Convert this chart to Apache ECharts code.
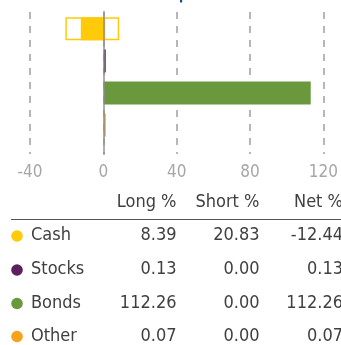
<!DOCTYPE html>
<html>
<head>
<meta charset="utf-8">
<script src="https://cdn.jsdelivr.net/npm/echarts@6/dist/echarts.min.js"></script>
<style>
  html, body { margin: 0; padding: 0; background: #fff; }
  #chart { width: 341px; height: 345px; }
</style>
</head>
<body>
<div id="chart"></div>
<script>
// Asset allocation: long / short / net exposure per asset class
const categories = ['Cash', 'Stocks', 'Bonds', 'Other'];
const longPct = [8.39, 0.13, 112.26, 0.07];
const shortPct = [20.83, 0.00, 0.00, 0.00];
const netPct = [-12.44, 0.13, 112.26, 0.07];
const classColors = ['#FFCA0A', '#5E1F5E', '#6A983C', '#F7A21C'];
const tableHeaders = ['Long %', 'Short %', 'Net %'];
const axisMin = -40, axisMax = 120, axisStep = 40;

const FONT = "'DejaVu Sans Condensed', 'Liberation Sans Narrow', sans-serif";
const TEXT = '#404040';

// Outline boxes are only drawn for classes that carry a short position
const longOutline = longPct.map((v, i) => shortPct[i] > 0 ? v : '-');
const shortOutline = shortPct.map(v => v > 0 ? -v : '-');

const chart = echarts.init(document.getElementById('chart'), null, { renderer: 'canvas' });

// Allocation table below the bars (y values are text centres)
const colRight = [176.5, 259.5, 343];
const headerY = 202.5;
const rowY = [235.5, 269.5, 303, 336];
const graphic = [];
tableHeaders.forEach((h, j) => {
  graphic.push({ type: 'text', x: colRight[j], y: headerY,
    style: { text: h, fill: TEXT, font: '18px ' + FONT, textAlign: 'right', textVerticalAlign: 'middle' } });
});
graphic.push({ type: 'line', shape: { x1: 11, y1: 219.5, x2: 341, y2: 219.5 },
  style: { stroke: '#555', lineWidth: 1 } });
categories.forEach((c, i) => {
  const y = rowY[i];
  graphic.push({ type: 'circle', shape: { cx: 17, cy: y + 0.5, r: 5.8 }, style: { fill: classColors[i] } });
  graphic.push({ type: 'text', x: 31, y: y,
    style: { text: c, fill: TEXT, font: '18px ' + FONT, textAlign: 'left', textVerticalAlign: 'middle' } });
  [longPct[i], shortPct[i], netPct[i]].forEach((v, j) => {
    graphic.push({ type: 'text', x: colRight[j], y: y,
      style: { text: v.toFixed(2), fill: TEXT, font: '18px ' + FONT, textAlign: 'right', textVerticalAlign: 'middle' } });
  });
});
// heading accent at the top edge
graphic.push({ type: 'rect', shape: { x: 180, y: 0, width: 2.2, height: 2.5 }, style: { fill: '#1B4F8A' } });

const barW = 23;
chart.setOption({
  animation: false,
  grid: [
    { left: 30, right: 16, top: 12, height: 142 },
    { left: 30, right: 16, top: 12.75, height: 128.4 }
  ],
  xAxis: [
    { gridIndex: 0, type: 'value', min: axisMin, max: axisMax, interval: axisStep,
      axisLine: { show: false }, axisTick: { show: false },
      axisLabel: { color: '#a6a6a6', fontSize: 17, fontFamily: FONT, margin: 10 },
      splitLine: { show: true, lineStyle: { color: '#a0a0a0', width: 1.5, type: [7, 7] } } },
    { gridIndex: 1, type: 'value', min: axisMin, max: axisMax, interval: axisStep, show: false,
      splitLine: { show: false } }
  ],
  yAxis: [
    { gridIndex: 0, type: 'category', data: categories, inverse: true, z: 10,
      axisLine: { show: true, onZero: true, lineStyle: { color: '#8c8c8c', width: 2, opacity: 0.7 } },
      axisTick: { show: false }, axisLabel: { show: false }, splitLine: { show: false } },
    { gridIndex: 1, type: 'category', data: categories, inverse: true, show: false }
  ],
  series: [
    { name: 'Short', type: 'bar', xAxisIndex: 1, yAxisIndex: 1, data: shortOutline,
      barWidth: barW, barGap: '-100%',
      itemStyle: { color: '#fff', borderColor: classColors[0], borderWidth: 1.5 } },
    { name: 'Long', type: 'bar', xAxisIndex: 1, yAxisIndex: 1, data: longOutline,
      barWidth: barW, barGap: '-100%',
      itemStyle: { color: '#fff', borderColor: classColors[0], borderWidth: 1.5 } },
    { name: 'Net', type: 'bar', xAxisIndex: 1, yAxisIndex: 1, barWidth: barW, barGap: '-100%',
      barMinHeight: 2,
      data: netPct.map((v, i) => ({ value: v, itemStyle: { color: classColors[i] } })) }
  ],
  graphic: graphic
});
</script>
</body>
</html>
